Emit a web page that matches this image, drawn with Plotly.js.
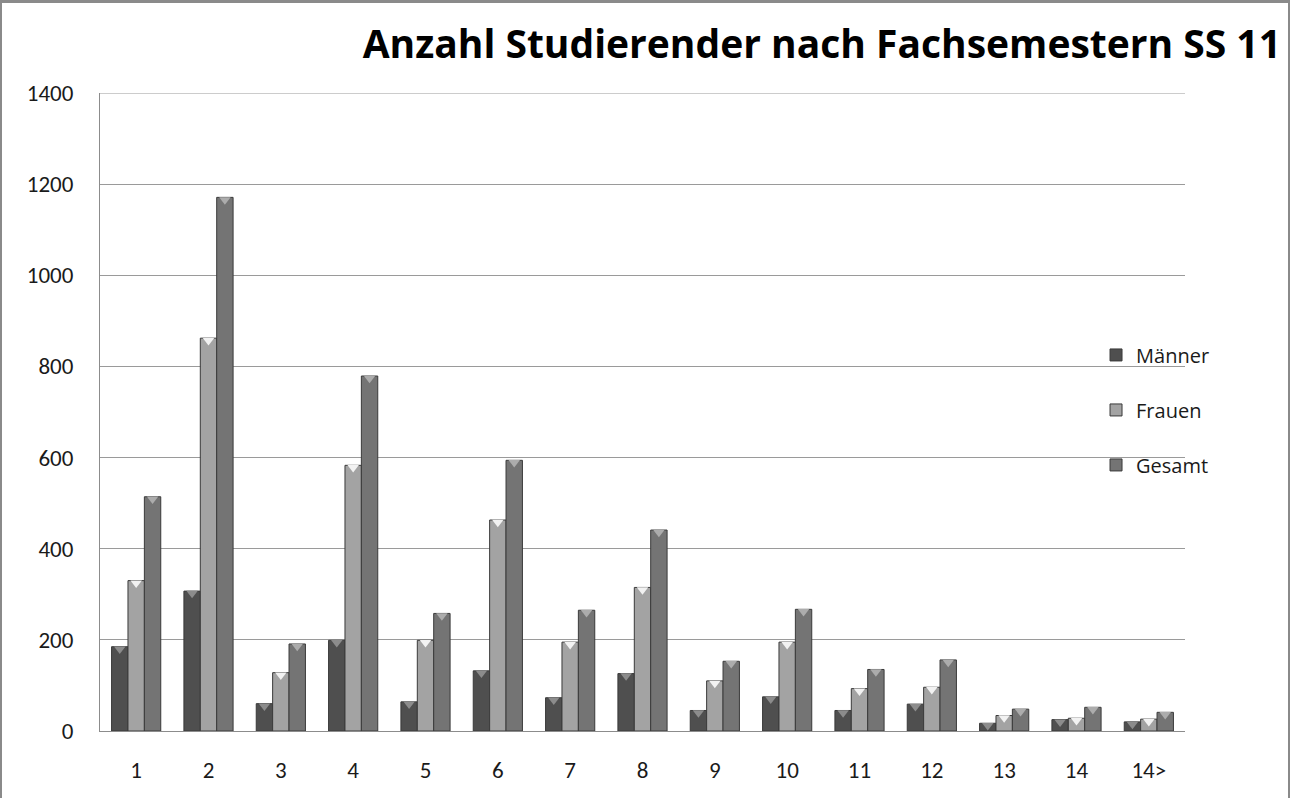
<!DOCTYPE html>
<html>
<head>
<meta charset="utf-8">
<script src="https://cdn.plot.ly/plotly-3.0.1.min.js"></script>
<style>
  html, body { margin: 0; padding: 0; background: #fff; }
  #frame { position: absolute; left: 0; top: 0; width: 1290px; height: 798px; box-sizing: border-box;
           border-top: 3px solid #8a8a8a; border-left: 2px solid #8a8a8a; border-right: 2px solid #8a8a8a; }
  #chart { position: absolute; left: 0; top: 0; width: 1290px; height: 798px; }
</style>
</head>
<body>
<div id="chart"></div>
<div id="frame"></div>
<script>
const categories = ['1','2','3','4','5','6','7','8','9','10','11','12','13','14','14>'];
const maenner = [185, 307, 60, 199, 64, 132, 73, 126, 45, 75, 45, 59, 17, 25, 20];
const frauen  = [330, 862, 128, 583, 199, 463, 195, 315, 110, 195, 93, 96, 34, 28, 26];
const gesamt  = [514, 1171, 191, 779, 258, 594, 265, 441, 153, 267, 135, 156, 48, 52, 41];
const yTicks = [0, 200, 400, 600, 800, 1000, 1200, 1400];

const FONT = "Carlito, Calibri, Lato, 'Open Sans', sans-serif";
const TITLE_FONT = "'Open Sans', Carlito, sans-serif";

function barTrace(name, values, color, group) {
  return {
    type: 'bar', name: name, x: categories, y: values,
    legendgroup: group,
    marker: { color: color, line: { color: '#3a3a3a', width: 1 } },
    hoverinfo: 'x+y+name'
  };
}

// small bevel highlight at the top of each bar (same data, grouped like the bars)
function capTrace(values, color) {
  return {
    type: 'scatter', mode: 'markers', x: categories, y: values,
    yaxis: 'y2', showlegend: false, hoverinfo: 'skip',
    marker: { symbol: 'triangle-down', size: 10, color: color, line: { width: 0 } }
  };
}

const data = [
  barTrace('Männer', maenner, '#4f4f4f', 'a'),
  barTrace('Frauen', frauen, '#a3a3a3', 'b'),
  barTrace('Gesamt', gesamt, '#747474', 'c'),
  capTrace(maenner, '#8c8c8c'),
  capTrace(frauen, '#f2f2f2'),
  capTrace(gesamt, '#acacac')
];

const layout = {
  width: 1290, height: 798,
  margin: { l: 100, r: 105, t: 93, b: 67, pad: 0 },
  paper_bgcolor: '#ffffff', plot_bgcolor: '#ffffff',
  barmode: 'group', bargap: 0.32, bargroupgap: 0,
  scattermode: 'group', scattergap: 0.32,
  title: {
    text: '<b>Anzahl Studierender nach Fachsemestern SS 11</b>',
    font: { family: TITLE_FONT, size: 39, color: '#000000' },
    x: 0.993, xanchor: 'right', xref: 'container', y: 0.945, yanchor: 'middle'
  },
  font: { family: FONT, size: 22, color: '#1a1a1a' },
  xaxis: {
    type: 'category', showgrid: false, zeroline: false,
    showline: true, linecolor: '#8c8c8c', linewidth: 1,
    ticks: '', ticklabelstandoff: 18,
    tickfont: { family: FONT, size: 23, color: '#1a1a1a' }
  },
  yaxis: {
    range: [0, 1400], tickvals: yTicks, ticktext: yTicks.map(String),
    showgrid: true, gridcolor: '#9a9a9a', gridwidth: 1,
    zeroline: false, showline: true, linecolor: '#8c8c8c', linewidth: 1,
    ticks: '', ticklabelstandoff: 21,
    tickfont: { family: FONT, size: 23, color: '#1a1a1a' }
  },
  yaxis2: {
    overlaying: 'y', range: [5, 1405], visible: false, fixedrange: true
  },
  shapes: [
    { type: 'line', xref: 'paper', yref: 'y', x0: 0, x1: 1, y0: 1400, y1: 1400, line: { color: '#9a9a9a', width: 1 } }
  ],
  legend: {
    x: 0.918, xanchor: 'left', y: 0.62, yanchor: 'top',
    bgcolor: 'rgba(0,0,0,0)', tracegroupgap: 26,
    font: { family: "'Open Sans', sans-serif", size: 20, color: '#1a1a1a' },
    itemwidth: 30
  },
  showlegend: true
};

Plotly.newPlot('chart', data, layout, { displayModeBar: false, staticPlot: true });
</script>
</body>
</html>
